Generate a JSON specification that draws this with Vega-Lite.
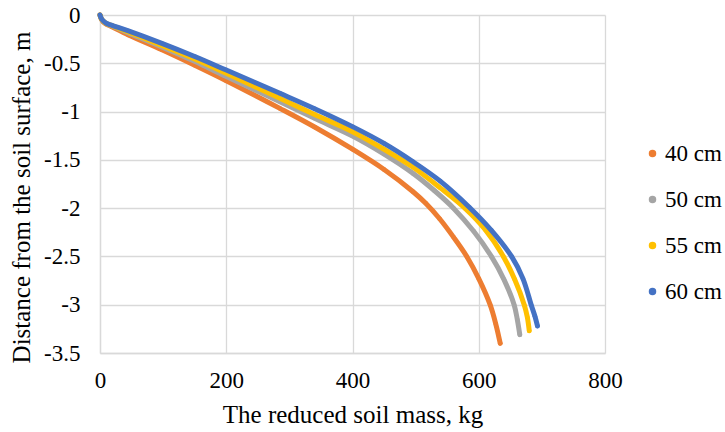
{
  "$schema": "https://vega.github.io/schema/vega-lite/v6.json",
  "autosize": {"type": "none"},
  "padding": {"left": 100, "top": 15, "right": 120, "bottom": 79},
  "width": 505,
  "height": 338,
  "background": "white",
  "config": {
    "font": "Liberation Serif, Times New Roman, serif",
    "view": {"stroke": null},
    "text": {"font": "Liberation Serif, Times New Roman, serif"},
    "axis": {"gridColor": "#d9d9d9", "gridWidth": 1.3, "domainColor": "#d9d9d9", "domainWidth": 1.3, "ticks": false, "labelColor": "black", "titleColor": "black", "labelFont": "Liberation Serif, Times New Roman, serif", "titleFont": "Liberation Serif, Times New Roman, serif", "titleFontWeight": "normal", "labelFlush": false, "labelOverlap": false},
    "legend": {"labelFont": "Liberation Serif, Times New Roman, serif"}
  },
  "data": {"values": [
    {"s": "40 cm", "x": 0, "y": 0}, {"s": "40 cm", "x": 2, "y": -0.04}, {"s": "40 cm", "x": 5, "y": -0.07}, {"s": "40 cm", "x": 10, "y": -0.095}, {"s": "40 cm", "x": 18, "y": -0.12}, {"s": "40 cm", "x": 45, "y": -0.207}, {"s": "40 cm", "x": 98, "y": -0.36}, {"s": "40 cm", "x": 150, "y": -0.52}, {"s": "40 cm", "x": 200, "y": -0.68}, {"s": "40 cm", "x": 285, "y": -0.967}, {"s": "40 cm", "x": 340, "y": -1.16}, {"s": "40 cm", "x": 400, "y": -1.39}, {"s": "40 cm", "x": 450, "y": -1.6}, {"s": "40 cm", "x": 496, "y": -1.83}, {"s": "40 cm", "x": 516, "y": -1.95}, {"s": "40 cm", "x": 538, "y": -2.11}, {"s": "40 cm", "x": 560, "y": -2.3}, {"s": "40 cm", "x": 581, "y": -2.5}, {"s": "40 cm", "x": 600, "y": -2.73}, {"s": "40 cm", "x": 618, "y": -3.0}, {"s": "40 cm", "x": 627, "y": -3.2}, {"s": "40 cm", "x": 634, "y": -3.4},
    {"s": "50 cm", "x": 0, "y": 0}, {"s": "50 cm", "x": 2, "y": -0.038}, {"s": "50 cm", "x": 5, "y": -0.065}, {"s": "50 cm", "x": 10, "y": -0.09}, {"s": "50 cm", "x": 18, "y": -0.11}, {"s": "50 cm", "x": 45, "y": -0.185}, {"s": "50 cm", "x": 98, "y": -0.33}, {"s": "50 cm", "x": 150, "y": -0.48}, {"s": "50 cm", "x": 200, "y": -0.638}, {"s": "50 cm", "x": 285, "y": -0.897}, {"s": "50 cm", "x": 340, "y": -1.07}, {"s": "50 cm", "x": 400, "y": -1.253}, {"s": "50 cm", "x": 450, "y": -1.44}, {"s": "50 cm", "x": 496, "y": -1.64}, {"s": "50 cm", "x": 530, "y": -1.82}, {"s": "50 cm", "x": 560, "y": -2.0}, {"s": "50 cm", "x": 592, "y": -2.24}, {"s": "50 cm", "x": 620, "y": -2.5}, {"s": "50 cm", "x": 640, "y": -2.74}, {"s": "50 cm", "x": 656, "y": -3.0}, {"s": "50 cm", "x": 661, "y": -3.15}, {"s": "50 cm", "x": 665, "y": -3.31},
    {"s": "55 cm", "x": 0, "y": 0}, {"s": "55 cm", "x": 2, "y": -0.037}, {"s": "55 cm", "x": 5, "y": -0.063}, {"s": "55 cm", "x": 10, "y": -0.088}, {"s": "55 cm", "x": 18, "y": -0.108}, {"s": "55 cm", "x": 45, "y": -0.175}, {"s": "55 cm", "x": 98, "y": -0.315}, {"s": "55 cm", "x": 150, "y": -0.455}, {"s": "55 cm", "x": 200, "y": -0.604}, {"s": "55 cm", "x": 285, "y": -0.863}, {"s": "55 cm", "x": 340, "y": -1.03}, {"s": "55 cm", "x": 400, "y": -1.208}, {"s": "55 cm", "x": 450, "y": -1.39}, {"s": "55 cm", "x": 496, "y": -1.577}, {"s": "55 cm", "x": 539, "y": -1.79}, {"s": "55 cm", "x": 578, "y": -2.0}, {"s": "55 cm", "x": 610, "y": -2.22}, {"s": "55 cm", "x": 639, "y": -2.5}, {"s": "55 cm", "x": 657, "y": -2.74}, {"s": "55 cm", "x": 672, "y": -3.0}, {"s": "55 cm", "x": 677, "y": -3.13}, {"s": "55 cm", "x": 680, "y": -3.27},
    {"s": "60 cm", "x": 0, "y": 0}, {"s": "60 cm", "x": 2, "y": -0.035}, {"s": "60 cm", "x": 5, "y": -0.06}, {"s": "60 cm", "x": 10, "y": -0.085}, {"s": "60 cm", "x": 18, "y": -0.105}, {"s": "60 cm", "x": 45, "y": -0.165}, {"s": "60 cm", "x": 98, "y": -0.294}, {"s": "60 cm", "x": 150, "y": -0.43}, {"s": "60 cm", "x": 200, "y": -0.57}, {"s": "60 cm", "x": 285, "y": -0.811}, {"s": "60 cm", "x": 340, "y": -0.97}, {"s": "60 cm", "x": 400, "y": -1.156}, {"s": "60 cm", "x": 450, "y": -1.33}, {"s": "60 cm", "x": 496, "y": -1.52}, {"s": "60 cm", "x": 539, "y": -1.72}, {"s": "60 cm", "x": 585, "y": -1.99}, {"s": "60 cm", "x": 620, "y": -2.23}, {"s": "60 cm", "x": 652, "y": -2.5}, {"s": "60 cm", "x": 670, "y": -2.73}, {"s": "60 cm", "x": 683, "y": -3.0}, {"s": "60 cm", "x": 689, "y": -3.12}, {"s": "60 cm", "x": 693, "y": -3.22}
  ]},
  "encoding": {
    "x": {"field": "x", "type": "quantitative", "scale": {"domain": [0, 800], "nice": false}, "axis": {"values": [0, 200, 400, 600, 800], "title": "The reduced soil mass, kg", "labelFontSize": 23, "titleFontSize": 25, "labelPadding": 16, "titlePadding": 10}},
    "y": {"field": "y", "type": "quantitative", "scale": {"domain": [-3.5, 0], "nice": false}, "axis": {"values": [0, -0.5, -1, -1.5, -2, -2.5, -3, -3.5], "labelExpr": "toString(datum.value)", "title": "Distance from the soil surface, m", "labelFontSize": 23, "titleFontSize": 25, "labelPadding": 20, "titlePadding": 9, "titleY": 182}},
    "color": {"field": "s", "type": "nominal", "scale": {"domain": ["40 cm", "50 cm", "55 cm", "60 cm"], "range": ["#ED7D31", "#A5A5A5", "#FFC000", "#4472C4"]}}
  },
  "layer": [
    {"mark": {"type": "point", "filled": true, "size": 20, "opacity": 1}, "encoding": {"color": {"field": "s", "type": "nominal", "legend": {"title": null, "orient": "none", "legendX": 541, "legendY": 127, "padding": 0, "symbolType": "circle", "symbolSize": 36, "labelFontSize": 23, "labelColor": "black", "rowPadding": 22, "labelOffset": 1}}}},
    {"mark": {"type": "line", "strokeWidth": 5, "strokeCap": "round", "strokeJoin": "round", "interpolate": "catmull-rom"}, "encoding": {"color": {"field": "s", "type": "nominal", "legend": null}}}
  ]
}
